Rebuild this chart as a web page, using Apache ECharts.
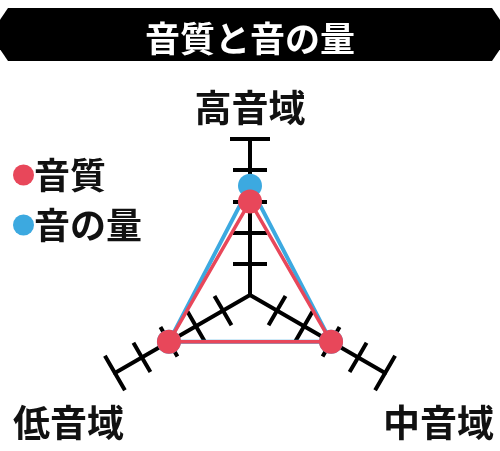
<!DOCTYPE html>
<html>
<head>
<meta charset="utf-8">
<script src="https://cdn.jsdelivr.net/npm/echarts@6/dist/echarts.min.js"></script>
<style>html,body{margin:0;padding:0;background:#fff;}#c{width:500px;height:451px;}</style>
</head>
<body>
<div id="c"></div>
<script>
const titleText = '音質と音の量';
const axes = ['高音域', '低音域', '中音域'];
const axisMax = 5;
const innerTicks = [1, 2, 3, 4];
const endTicks = [5];
const seriesNames = ['音質', '音の量'];
const qualityValues = [3, 3, 3];
const volumeValues = [3.5, 3, 3];

const FONT = '"Noto Sans CJK JP", "Noto Sans", sans-serif';
const RED = '#E8475A';
const BLUE = '#3CA9E0';
const indicator = axes.map(n => ({ name: n, min: 0, max: axisMax }));

function radarBase(ticks, len, showLine) {
  return {
    center: [250, 295],
    radius: 156,
    startAngle: 90,
    splitNumber: 5,
    indicator: indicator,
    axisName: { show: false },
    splitLine: { show: false },
    splitArea: { show: false },
    axisLine: { show: showLine, lineStyle: { color: '#000', width: 4 } },
    axisTick: { show: true, customValues: ticks, length: len, lineStyle: { color: '#000', width: 4 } },
    axisLabel: { show: false }
  };
}

const chart = echarts.init(document.getElementById('c'), null, { renderer: 'canvas' });
chart.setOption({
  backgroundColor: '#fff',
  animation: false,
  graphic: [{
    type: 'polygon',
    z: -1,
    shape: { points: [[8, 8], [492, 8], [510, 34.5], [492, 61], [8, 61], [-10, 34.5]] },
    style: { fill: '#000' }
  }],
  title: [
    { text: titleText, left: 'center', top: 15, textStyle: { color: '#fff', fontSize: 35, fontWeight: 'bold', fontFamily: FONT, lineHeight: 38 } },
    { text: axes[0], left: 'center', top: 83, textStyle: { color: '#111', fontSize: 37, fontWeight: 'bold', fontFamily: FONT, lineHeight: 40 } },
    { text: axes[1], left: 8, top: 398, textStyle: { color: '#111', fontSize: 37, fontWeight: 'bold', fontFamily: FONT, lineHeight: 40 } },
    { text: axes[2], left: 378, top: 398, textStyle: { color: '#111', fontSize: 37, fontWeight: 'bold', fontFamily: FONT, lineHeight: 40 } }
  ],
  legend: {
    orient: 'vertical',
    left: 8,
    top: 152,
    icon: 'circle',
    itemWidth: 21,
    itemHeight: 21,
    itemGap: 14,
    data: seriesNames,
    textStyle: { color: '#111', fontSize: 36, fontWeight: 'bold', fontFamily: FONT, lineHeight: 36, padding: [0, 0, 0, -5] }
  },
  radar: [
    radarBase(innerTicks, 17, true),
    radarBase(innerTicks, -17, false),
    radarBase(endTicks, 20, false),
    radarBase(endTicks, -20, false)
  ],
  series: [
    {
      type: 'radar',
      radarIndex: 0,
      z: 5,
      data: [{
        name: seriesNames[1],
        value: volumeValues,
        symbol: 'circle',
        symbolSize: 24,
        itemStyle: { color: BLUE },
        lineStyle: { color: BLUE, width: 4 }
      }]
    },
    {
      type: 'radar',
      radarIndex: 0,
      z: 6,
      data: [{
        name: seriesNames[0],
        value: qualityValues,
        symbol: 'circle',
        symbolSize: 24,
        itemStyle: { color: RED },
        lineStyle: { color: RED, width: 3.5 }
      }]
    }
  ]
});
</script>
</body>
</html>
